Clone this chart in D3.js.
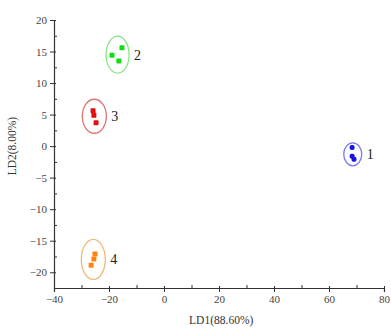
<!DOCTYPE html>
<html>
<head>
<meta charset="utf-8">
<script src="https://cdn.jsdelivr.net/npm/d3@7"></script>
<style>
  body { margin: 0; background: #fff; }
  text { font-family: "Liberation Serif", "DejaVu Serif", serif; }
</style>
</head>
<body>
<div id="chart"></div>
<script>
// Groups and their LD scores
const groups = ["1", "2", "3", "4"];
const ld1 = [
  [68.4, 68.4, 69.1],
  [-15.3, -18.9, -16.4],
  [-25.8, -25.5, -24.7],
  [-25.1, -25.5, -26.5]
];
const ld2 = [
  [-0.2, -1.6, -2.1],
  [15.6, 14.4, 13.5],
  [5.6, 4.9, 3.7],
  [-17.1, -17.9, -18.9]
];
const xTicks = [-40, -20, 0, 20, 40, 60, 80];
const yTicks = [-20, -15, -10, -5, 0, 5, 10, 15, 20];

// Styles
const pointColor = ["#1414e6", "#12dc12", "#e41010", "#ff8410"];
const ringColor = ["#7a7ae8", "#86e686", "#e07272", "#f0b878"];
const ringR = [[9, 11.5], [11.5, 18.5], [12, 17], [12, 20]];

const width = 391, height = 332;
const margin = {top: 20, right: 7, bottom: 44, left: 54};

const x = d3.scaleLinear().domain([-40, 80]).range([margin.left, width - margin.right]);
const y = d3.scaleLinear().domain([-22.5, 20]).range([height - margin.bottom, margin.top]);

const svg = d3.select("#chart").append("svg")
  .attr("width", width)
  .attr("height", height);

// x axis
const xg = svg.append("g")
  .attr("transform", `translate(0,${y(-22.5)})`);
xg.call(d3.axisBottom(x).tickValues(d3.range(-30, 80, 20)).tickSize(-3).tickFormat(""))
  .call(g => g.select(".domain").remove());
xg.append("g").call(d3.axisBottom(x).tickValues(xTicks).tickSize(4).tickPadding(3))
  .call(g => g.selectAll(".tick line").attr("y1", -2));

// y axis
const yg = svg.append("g")
  .attr("transform", `translate(${x(-40)},0)`);
yg.call(d3.axisLeft(y).tickValues(d3.range(-22.5, 20.1, 2.5).filter(v => v % 5 !== 0)).tickSize(-3).tickFormat(""))
  .call(g => g.select(".domain").remove());
yg.append("g").call(d3.axisLeft(y).tickValues(yTicks).tickSize(4).tickPadding(3).tickSizeOuter(0))
  .call(g => g.selectAll(".tick line").attr("x1", 2));

svg.selectAll(".domain").attr("stroke", "#333").attr("stroke-width", 1.2);
svg.selectAll(".tick line").attr("stroke", "#333");
svg.selectAll(".tick text")
  .attr("font-family", "Liberation Serif")
  .attr("font-size", 11)
  .attr("fill", "#444");

// axis titles
svg.append("text")
  .attr("x", x(20.8))
  .attr("y", height - 8)
  .attr("text-anchor", "middle")
  .attr("font-size", 11.5)
  .attr("fill", "#333")
  .text("LD1(88.60%)");

svg.append("text")
  .attr("transform", `translate(16,${y(0)}) rotate(-90)`)
  .attr("text-anchor", "middle")
  .attr("font-size", 11.5)
  .attr("fill", "#333")
  .text("LD2(8.00%)");

// groups
groups.forEach((name, i) => {
  const cx = d3.mean(ld1[i]), cy = d3.mean(ld2[i]);
  const g = svg.append("g");
  g.append("ellipse")
    .attr("cx", x(cx))
    .attr("cy", y(cy))
    .attr("rx", ringR[i][0])
    .attr("ry", ringR[i][1])
    .attr("fill", "none")
    .attr("stroke", ringColor[i])
    .attr("stroke-width", 1.3);
  g.selectAll("rect")
    .data(ld1[i].map((v, j) => [v, ld2[i][j]]))
    .join("rect")
      .attr("x", d => x(d[0]) - 2.5)
      .attr("y", d => y(d[1]) - 2.5)
      .attr("width", 5)
      .attr("height", 5)
      .attr("rx", i === 0 ? 2 : 0.8)
      .attr("fill", pointColor[i]);
  g.append("text")
    .attr("x", x(cx) + ringR[i][0] + 5)
    .attr("y", y(cy) + 5)
    .attr("font-size", 14)
    .attr("fill", "#222")
    .text(name);
});
</script>
</body>
</html>
